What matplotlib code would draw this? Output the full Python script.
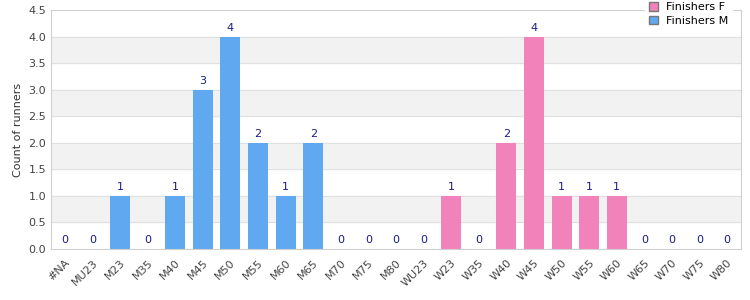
import matplotlib.pyplot as plt
import numpy as np
from matplotlib.patches import Patch

categories = ["#NA", "MU23", "M23", "M35", "M40", "M45", "M50", "M55", "M60", "M65",
              "M70", "M75", "M80", "WU23", "W23", "W35", "W40", "W45", "W50", "W55",
              "W60", "W65", "W70", "W75", "W80"]
finishers_m = [0, 0, 1, 0, 1, 3, 4, 2, 1, 2, 0, 0, 0, 0, 0, 0, 0, 0, 0, 0, 0, 0, 0, 0, 0]
finishers_f = [0, 0, 0, 0, 0, 0, 0, 0, 0, 0, 0, 0, 0, 0, 1, 0, 2, 4, 1, 1, 1, 0, 0, 0, 0]

blue = "#60a8f0"
pink = "#f282ba"

fig = plt.figure(figsize=(7.5, 3.0), dpi=100)
ax = fig.add_axes([51 / 750, 51 / 300, 690 / 750, 239 / 300])

x = np.arange(len(categories))
m = np.array(finishers_m)
f = np.array(finishers_f)

# alternating bands
for i in range(9):
    if i % 2 == 1:
        ax.axhspan(i * 0.5, (i + 1) * 0.5, color="#f2f2f2", zorder=0)
for v in np.arange(0.5, 4.5, 0.5):
    ax.axhline(v, color="#e0e0e0", lw=0.8, zorder=0.5)

ax.bar(x, m, width=0.72, color=blue, zorder=2)
ax.bar(x, f, width=0.72, bottom=m, color=pink, zorder=2)

tot = m + f
for xi, t in zip(x, tot):
    ax.text(xi, t + 0.07, str(t), ha="center", va="bottom", fontsize=8,
            color="#1a1a8c", zorder=3)

ax.set_xlim(-0.5, len(categories) - 0.5)
ax.set_ylim(0, 4.5)
ax.set_yticks(np.arange(0, 4.51, 0.5))
ax.set_yticklabels([f"{v:.1f}" for v in np.arange(0, 4.51, 0.5)])
ax.set_xticks(x)
ax.set_xticklabels(categories, rotation=45, ha="right", rotation_mode="anchor")
ax.tick_params(axis="both", length=0, labelsize=8, colors="#444444")
ax.tick_params(axis="x", pad=6)
ax.set_ylabel("Count of runners", fontsize=8, color="#333333")

for s in ax.spines.values():
    s.set_color("#d0d0d0")

handles = [Patch(facecolor=pink, edgecolor="#777777", label="Finishers F"),
           Patch(facecolor=blue, edgecolor="#777777", label="Finishers M")]
leg = ax.legend(handles=handles, loc="upper right", bbox_to_anchor=(0.995, 1.07),
                frameon=True, fontsize=8, handlelength=0.8, handleheight=0.8,
                borderpad=0.3, labelspacing=0.3, handletextpad=0.8)
leg.get_frame().set_edgecolor("white")
leg.get_frame().set_facecolor("white")
leg.get_frame().set_alpha(1)
leg.set_zorder(5)

fig.savefig("out.png", dpi=100)
